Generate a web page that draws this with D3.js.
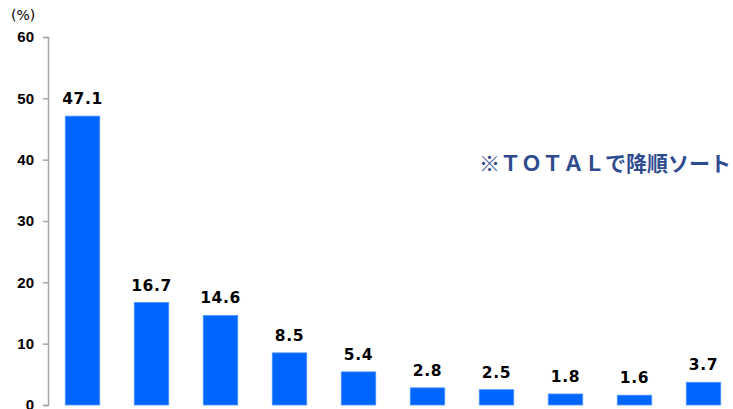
<!DOCTYPE html>
<html lang="ja">
<head>
<meta charset="utf-8" />
<script src="https://cdn.jsdelivr.net/npm/d3@7"></script>
<style>
  body { margin: 0; background: #fff; }
</style>
</head>
<body>
<div id="chart"></div>
<script>
  var categories = ["c1", "c2", "c3", "c4", "c5", "c6", "c7", "c8", "c9", "c10"];
  var values = [47.1, 16.7, 14.6, 8.5, 5.4, 2.8, 2.5, 1.8, 1.6, 3.7];
  var yTicks = [0, 10, 20, 30, 40, 50, 60];

  var width = 733, height = 409;

  var svg = d3.select("#chart").append("svg")
    .attr("width", width)
    .attr("height", height);

  var x = d3.scaleBand()
    .domain(categories)
    .range([48, 738])
    .paddingInner(0.5)
    .paddingOuter(0.25);

  var y = d3.scaleLinear().domain([0, 60]).range([405, 37]);

  var axis = svg.append("g")
    .attr("transform", "translate(48,0)")
    .call(d3.axisLeft(y).tickValues(yTicks).tickSize(5).tickPadding(9));
  axis.select(".domain").attr("stroke", "#a6a6a6").attr("stroke-width", 1.5);
  axis.selectAll(".tick line").attr("stroke", "#a6a6a6").attr("stroke-width", 1.5);
  axis.selectAll(".tick text")
    .attr("font-family", "Liberation Sans, Arial, sans-serif")
    .attr("font-size", 15)
    .attr("font-weight", "bold")
    .attr("fill", "#000");

  svg.append("text")
    .attr("x", 11).attr("y", 20)
    .attr("font-family", "DejaVu Sans, Verdana, sans-serif")
    .attr("font-size", 14)
    .text("(%)");

  svg.selectAll(".bar")
    .data(values)
    .enter().append("rect")
    .attr("class", "bar")
    .attr("x", function (d, i) { return x(categories[i]); })
    .attr("y", function (d) { return y(d); })
    .attr("width", x.bandwidth())
    .attr("height", function (d) { return y(0) - y(d); })
    .attr("fill", "#0066ff")
    .attr("stroke", "#4d94ff")
    .attr("stroke-width", 0.8);

  svg.selectAll(".lbl")
    .data(values)
    .enter().append("text")
    .attr("class", "lbl")
    .attr("x", function (d, i) { return x(categories[i]) + x.bandwidth() / 2; })
    .attr("y", function (d) { return y(d) - 12; })
    .attr("text-anchor", "middle")
    .attr("font-family", "DejaVu Sans, Verdana, sans-serif")
    .attr("font-size", 15.5)
    .attr("font-weight", "bold")
    .attr("letter-spacing", 0.6)
    .text(function (d) { return d.toFixed(1); });

  svg.append("text")
    .attr("x", 479).attr("y", 171)
    .attr("font-family", "Noto Sans CJK JP, sans-serif")
    .attr("font-size", 21)
    .attr("font-weight", "bold")
    .attr("fill", "#2f4b8f")
    .attr("textLength", 252)
    .text("※ＴＯＴＡＬで降順ソート");
</script>
</body>
</html>
